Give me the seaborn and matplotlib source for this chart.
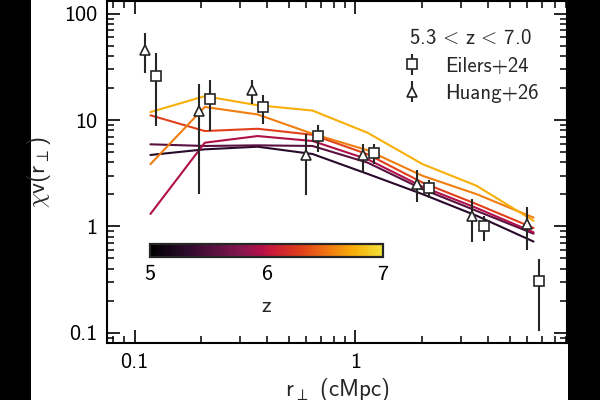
import numpy as np
import pandas as pd
import matplotlib
matplotlib.use("Agg")
import matplotlib.pyplot as plt
import seaborn as sns
from matplotlib.colors import LinearSegmentedColormap, Normalize
from matplotlib.cm import ScalarMappable
from matplotlib.patches import Rectangle
from matplotlib.ticker import FixedLocator, FixedFormatter, MultipleLocator, LogLocator, NullFormatter

# ---------------- data ----------------
r_model = [0.118, 0.208, 0.361, 0.640, 1.137, 2.018, 3.545, 6.42]
z_model = [5.3, 5.55, 5.95, 6.3, 6.55, 6.75]
chi_z530 = [4.70, 5.31, 5.62, 4.80, 3.12, 2.01, 1.26, 0.72]
chi_z555 = [5.92, 5.71, 5.79, 5.71, 3.98, 2.24, 1.40, 0.855]
chi_z595 = [1.31, 6.13, 7.08, 6.36, 4.28, 2.36, 1.49, 0.88]
chi_z630 = [11.1, 7.89, 8.29, 7.28, 4.77, 2.58, 1.62, 0.966]
chi_z655 = [3.85, 13.3, 11.3, 7.44, 5.2, 2.99, 2.01, 1.21]
chi_z675 = [11.9, 16.8, 13.8, 12.3, 7.6, 3.85, 2.41, 1.13]
chi_models = [chi_z530, chi_z555, chi_z595, chi_z630, chi_z655, chi_z675]

eilers_r = [0.1254, 0.2187, 0.381, 0.677, 1.214, 2.155, 3.83, 6.79]
eilers_chi = [25.8, 15.8, 13.2, 7.08, 4.94, 2.32, 1.0, 0.305]
eilers_lo = [8.8, 7.9, 9.1, 5.05, 3.85, 1.87, 0.73, 0.103]
eilers_hi = [42.8, 23.6, 17.1, 8.98, 5.92, 2.72, 1.26, 0.495]

huang_r = [0.111, 0.195, 0.340, 0.600, 1.082, 1.91, 3.39, 5.99]
huang_chi = [46, 12.1, 19.4, 4.7, 4.7, 2.50, 1.26, 1.05]
huang_lo = [27.7, 2.01, 14.2, 1.98, 3.18, 1.71, 0.71, 0.60]
huang_hi = [65.8, 21.9, 24.0, 7.35, 6.0, 3.38, 1.81, 1.53]

x_ticks = [0.1, 1]
x_ticklabels = ["0.1", "1"]
y_ticks = [0.1, 1, 10, 100]
y_ticklabels = ["0.1", "1", "10", "100"]
cbar_ticks = [5, 6, 7]

# ---------------- style ----------------
sns.set_theme(style="ticks")
plt.rcParams["font.family"] = ["cmss10", "DejaVu Sans"]
plt.rcParams["mathtext.fontset"] = "custom"
plt.rcParams["mathtext.rm"] = "cmss10"
plt.rcParams["mathtext.it"] = "cmss10"
plt.rcParams["mathtext.sf"] = "cmss10"
plt.rcParams["mathtext.bf"] = "cmss10"
plt.rcParams["mathtext.fallback"] = "cm"
plt.rcParams["axes.unicode_minus"] = False
plt.rcParams["axes.formatter.use_mathtext"] = True

cmap = LinearSegmentedColormap.from_list(
    "zmap",
    [(0.0, "#000000"), (0.15, "#2a0a2a"), (0.275, "#5a1040"), (0.40, "#8a1650"),
     (0.475, "#b0104a"), (0.52, "#c8183a"), (0.65, "#e0401a"), (0.775, "#f07c10"),
     (0.875, "#f8ae08"), (1.0, "#f2e23c")])
norm = Normalize(vmin=5, vmax=7)

fig = plt.figure(figsize=(6, 4), dpi=100, facecolor="black")
fig.add_artist(Rectangle((31 / 600, 0), (568 - 31) / 600, 1, transform=fig.transFigure,
                         facecolor="white", edgecolor="none", zorder=-10))
ax = fig.add_axes([107 / 600, 1 - 343 / 400, 460 / 600, 342 / 400])
ax.set_facecolor("white")

rows = []
for z, chis in zip(z_model, chi_models):
    for r, c in zip(r_model, chis):
        rows.append({"r": r, "chi": c, "z": z})
df = pd.DataFrame(rows)

sns.lineplot(data=df, x="r", y="chi", hue="z", palette=cmap, hue_norm=norm,
             ax=ax, linewidth=1.5, legend=False, estimator=None, sort=False, zorder=2)

ec = "#262626"
def yerr(c, lo, hi):
    c = np.array(c); return [c - np.array(lo), np.array(hi) - c]

ax.errorbar(eilers_r, eilers_chi, yerr=yerr(eilers_chi, eilers_lo, eilers_hi), fmt="s",
            ms=7.5, mfc="white", mec=ec, mew=1.2, ecolor=ec, elinewidth=1.5, capsize=0,
            zorder=4, label="Eilers+24")
ax.errorbar(huang_r, huang_chi, yerr=yerr(huang_chi, huang_lo, huang_hi), fmt="^",
            ms=7.5, mfc="white", mec=ec, mew=1.2, ecolor=ec, elinewidth=1.5, capsize=0,
            zorder=4, label="Huang+26")

ax.set_xscale("log")
ax.set_yscale("log")
ax.set_xlim(0.075, 9.1)
ax.set_ylim(0.08, 132)

ax.xaxis.set_major_locator(FixedLocator(x_ticks))
ax.xaxis.set_major_formatter(FixedFormatter(x_ticklabels))
ax.yaxis.set_major_locator(FixedLocator(y_ticks))
ax.yaxis.set_major_formatter(FixedFormatter(y_ticklabels))
ax.xaxis.set_minor_locator(LogLocator(base=10, subs=np.arange(2, 10), numticks=20))
ax.yaxis.set_minor_locator(LogLocator(base=10, subs=np.arange(2, 10), numticks=20))
ax.xaxis.set_minor_formatter(NullFormatter())
ax.yaxis.set_minor_formatter(NullFormatter())

ax.tick_params(which="both", direction="in", top=True, right=True, colors="black",
               labelsize=16)
ax.tick_params(which="major", length=9.5, width=1.2, pad=7)
ax.tick_params(which="minor", length=5, width=1.1)
for s in ax.spines.values():
    s.set_linewidth(1.5)
    s.set_color("black")

ax.set_xlabel(r"r$_\perp$ (cMpc)", fontsize=16.5, labelpad=3)
ax.set_ylabel(r"$\chi$v(r$_\perp$)", fontsize=17, labelpad=8)

leg = ax.legend(loc="upper right", bbox_to_anchor=(0.979, 0.975), frameon=False,
                fontsize=15, title=r"5.3$\,<\,$z$\,<\,$7.0", title_fontsize=15,
                handlelength=1.0, handletextpad=1.07, labelspacing=0.4)
leg.get_title().set_math_fontfamily("cm")

# colorbar inset
cax = fig.add_axes([150 / 600, 1 - 257 / 400, 233 / 600, 13 / 400])
sm = ScalarMappable(norm=norm, cmap=cmap)
cb = fig.colorbar(sm, cax=cax, orientation="horizontal")
cb.set_ticks(cbar_ticks)
cb.set_ticklabels([str(t) for t in cbar_ticks])
cax.xaxis.set_minor_locator(MultipleLocator(0.2))
cax.tick_params(which="both", direction="in", bottom=True, top=False, labelsize=16,
                colors="black")
cax.tick_params(which="major", length=4.5, width=1.3, pad=6)
cax.tick_params(which="minor", length=2.5, width=1.3)
cb.outline.set_linewidth(1.6)
cb.set_label("z", fontsize=16, labelpad=9)

fig.savefig("out.png", dpi=100, facecolor=fig.get_facecolor())
